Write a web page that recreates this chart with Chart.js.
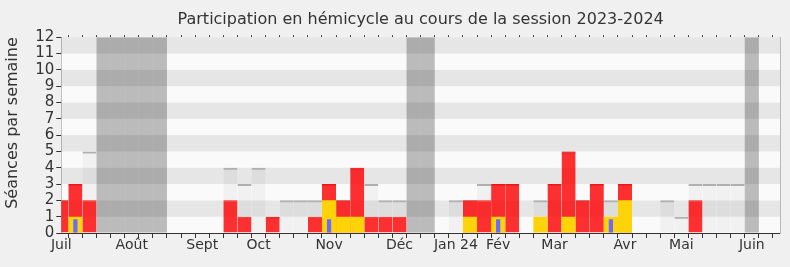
<!DOCTYPE html>
<html><head><meta charset="utf-8">
<script src="https://cdn.jsdelivr.net/npm/chart.js@4"></script>
<style>html,body{margin:0;padding:0;background:#f0f0f0;overflow:hidden}</style>
</head><body>
<canvas id="c" width="790" height="267"></canvas>
<script>
// Week categories (52 weeks of the session, index 0 = first week of July 2023)
const weekCategories = Array.from({length: 52}, (_, i) => 'Semaine ' + (i + 1));
// Month tick labels and the week at which each one is printed
const monthLabels = ['Juil','Août','Sept','Oct','Nov','Déc','Jan 24','Fév','Mar','Avr','Mai','Juin'];
const monthWeeks  = [0, 5, 10, 14, 19, 24, 28, 31, 35, 40, 44, 49];
const yTicks = [0,1,2,3,4,5,6,7,8,9,10,11,12];

// Séances par semaine (total sittings, grey)
const seances = [2,3,5,0,0,0,0,0,0,0,0,0,4,3,4,1,2,2,2,3,2,4,3,2,2,0,0,0,2,2,3,3,3,0,2,3,5,2,3,2,3,0,0,2,1,3,3,3,3,0,0,0];
// Présences (red)
const presences = [2,3,2,0,0,0,0,0,0,0,0,0,2,1,0,1,0,0,1,3,2,4,1,1,1,0,0,0,0,2,2,3,3,0,0,3,5,2,3,0,3,0,0,0,0,2,0,0,0,0,0,0];
// Interventions (yellow)
const interventions = [0,1,0,0,0,0,0,0,0,0,0,0,0,0,0,0,0,0,0,2,1,1,0,0,0,0,0,0,0,1,0,1,0,0,1,0,1,0,0,1,2,0,0,0,0,0,0,0,0,0,0,0];
// Questions (blue)
const questions = [0,0.85,0,0,0,0,0,0,0,0,0,0,0,0,0,0,0,0,0,0.85,0,0,0,0,0,0,0,0,0,0,0,0.85,0,0,0,0,0,0,0,0.85,0,0,0,0,0,0,0,0,0,0,0,0];
// Vacances parlementaires (dark grey, full height)
const vacances = [0,0,0,12,12,12,12,12,0,0,0,0,0,0,0,0,0,0,0,0,0,0,0,0,0,12,12,0,0,0,0,0,0,0,0,0,0,0,0,0,0,0,0,0,0,0,0,0,0,12,0,0];

const FONT = 'DejaVu Sans';
const TXT = '#333333';
const nz = arr => arr.map(v => (v === 0 ? null : v));

const bands = {
  id: 'bands',
  beforeDatasetsDraw(chart) {
    const {ctx, chartArea: a, scales: {y}} = chart;
    ctx.save();
    for (let i = 0; i < yTicks.length - 1; i++) {
      const y0 = y.getPixelForValue(yTicks[i]);
      const y1 = y.getPixelForValue(yTicks[i + 1]);
      ctx.fillStyle = (i % 2 === 0) ? '#fafafa' : '#e6e6e6';
      ctx.fillRect(a.left, y1, a.right - a.left, y0 - y1);
    }
    ctx.restore();
  }
};

new Chart(document.getElementById('c'), {
  type: 'bar',
  data: {
    labels: weekCategories,
    datasets: [
      {label: 'Questions', data: nz(questions), backgroundColor: '#6b6bff', barPercentage: 0.3, order: 1},
      {label: 'Interventions', data: nz(interventions), backgroundColor: '#ffd30a', order: 2},
      {label: 'Présences', data: nz(presences), backgroundColor: 'rgba(255,0,0,0.8)', borderColor: 'rgba(255,0,0,0.9)', borderWidth: {top: 1, left: 0, right: 0, bottom: 0}, order: 3},
      {label: 'Séances', data: nz(seances), backgroundColor: 'rgba(0,0,0,0.035)', borderColor: '#b0b0b0', borderWidth: {top: 2, left: 0, right: 0, bottom: 0}, order: 4},
      {label: 'Vacances', data: nz(vacances), backgroundColor: 'rgba(0,0,0,0.25)', order: 5}
    ]
  },
  options: {
    responsive: false,
    animation: false,
    devicePixelRatio: 1,
    datasets: {bar: {grouped: false, barPercentage: 1, categoryPercentage: 1, inflateAmount: 0}},
    layout: {padding: {left: 3, right: 2, bottom: 15, top: 0}},
    plugins: {
      legend: {display: false},
      tooltip: {enabled: false},
      title: {display: true, text: 'Participation en hémicycle au cours de la session 2023-2024', fullSize: false,
        color: TXT, font: {family: FONT, size: 16, weight: 'normal'}, padding: {top: 10, bottom: 6}}
    },
    scales: {
      x: {
        type: 'category', offset: false,
        grid: {display: true, drawOnChartArea: false, drawTicks: true, tickLength: 5, color: TXT},
        border: {display: true, color: TXT, width: 1},
        ticks: {autoSkip: false, maxRotation: 0, minRotation: 0, color: TXT, font: {family: FONT, size: 14, lineHeight: 1}, padding: 0,
          callback: (v, i) => { const k = monthWeeks.indexOf(i); return k >= 0 ? monthLabels[k] : ''; }}
      },
      x2: {
        type: 'category', position: 'top', offset: false,
        grid: {display: true, drawOnChartArea: false, drawTicks: true, tickLength: 2, color: TXT},
        border: {display: false},
        ticks: {display: false, autoSkip: false}
      },
      y: {
        min: 0, max: 12,
        afterBuildTicks: (s) => { s.ticks = yTicks.map(v => ({value: v})); },
        grid: {display: true, drawOnChartArea: false, drawTicks: true, tickLength: 5, color: TXT},
        border: {display: true, color: TXT, width: 1},
        ticks: {autoSkip: false, color: TXT, font: {family: FONT, size: 15}, padding: 2},
        title: {display: true, text: 'Séances par semaine', align: 'end', color: TXT, font: {family: FONT, size: 16}, padding: {top: 0, bottom: 11}}
      },
      y2: {
        position: 'right', min: 0, max: 12,
        grid: {display: false},
        border: {display: true, color: '#b8b8b8', width: 1},
        ticks: {display: false}
      }
    }
  },
  plugins: [bands]
});
</script>
</body></html>
